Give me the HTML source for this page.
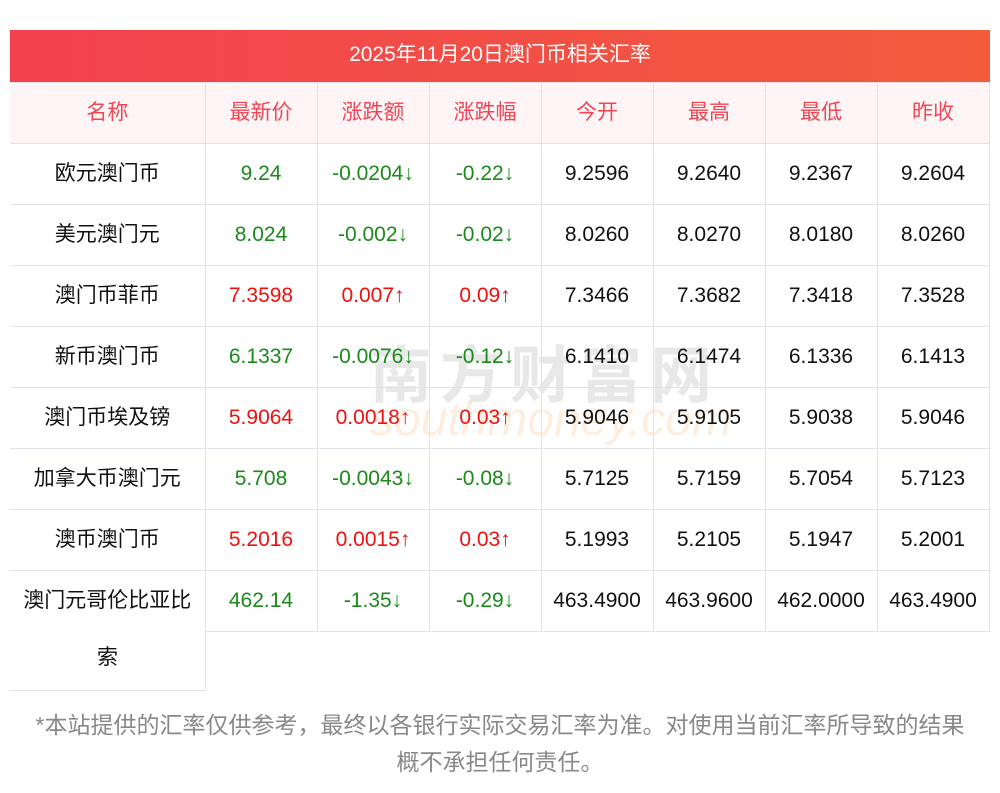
<!DOCTYPE html>
<html><head><meta charset="utf-8"><style>
body{margin:0;background:#fff;width:1000px;height:793px;overflow:hidden;font-family:"Liberation Sans","Noto Sans CJK SC",sans-serif;position:relative}
.title{position:absolute;left:10px;top:30px;width:980px;height:52px;background:linear-gradient(90deg,#f2414f,#f25c3c);color:#fff;font-size:21px;line-height:50px;text-align:center}
table{position:absolute;left:10px;top:82px;border-collapse:collapse;font-size:21px;table-layout:fixed}
td{height:60px;border:1px solid #e2e2ea;text-align:center;padding:0;color:#111;line-height:56px;white-space:nowrap}
td:first-child{border-left:none}
tr.h td{background:#fff5f6;color:#f04654}
.g{color:#1a8a1a}.r{color:#f01010}
.wm{position:absolute;left:370px;top:325px;font-size:62px;color:rgba(180,180,180,.3);letter-spacing:8px;font-weight:bold}
.wm2{position:absolute;left:370px;top:392px;font-size:48px;color:rgba(250,200,150,.3);font-style:italic}
.foot{position:absolute;left:0;top:707px;width:1000px;text-align:center;font-size:23px;line-height:37px;color:#888}
.last{position:absolute;left:10px;top:630px;width:195px;height:60px;border-right:1px solid #e2e2ea;border-bottom:1px solid #e2e2ea;text-align:center;font-size:21px;line-height:56px;color:#111}
</style></head><body>
<div class="title">2025年11月20日澳门币相关汇率</div>
<div class="wm">南方财富网</div><div class="wm2">southmoney.com</div>
<table>
<colgroup><col style="width:195px"><col style="width:112px"><col style="width:112px"><col style="width:112px"><col style="width:112px"><col style="width:112px"><col style="width:112px"><col style="width:112px"></colgroup>
<tr class="h"><td>名称</td><td>最新价</td><td>涨跌额</td><td>涨跌幅</td><td>今开</td><td>最高</td><td>最低</td><td>昨收</td></tr>
<tr><td>欧元澳门币</td><td class="g">9.24</td><td class="g">-0.0204↓</td><td class="g">-0.22↓</td><td>9.2596</td><td>9.2640</td><td>9.2367</td><td>9.2604</td></tr>
<tr><td>美元澳门元</td><td class="g">8.024</td><td class="g">-0.002↓</td><td class="g">-0.02↓</td><td>8.0260</td><td>8.0270</td><td>8.0180</td><td>8.0260</td></tr>
<tr><td>澳门币菲币</td><td class="r">7.3598</td><td class="r">0.007↑</td><td class="r">0.09↑</td><td>7.3466</td><td>7.3682</td><td>7.3418</td><td>7.3528</td></tr>
<tr><td>新币澳门币</td><td class="g">6.1337</td><td class="g">-0.0076↓</td><td class="g">-0.12↓</td><td>6.1410</td><td>6.1474</td><td>6.1336</td><td>6.1413</td></tr>
<tr><td>澳门币埃及镑</td><td class="r">5.9064</td><td class="r">0.0018↑</td><td class="r">0.03↑</td><td>5.9046</td><td>5.9105</td><td>5.9038</td><td>5.9046</td></tr>
<tr><td>加拿大币澳门元</td><td class="g">5.708</td><td class="g">-0.0043↓</td><td class="g">-0.08↓</td><td>5.7125</td><td>5.7159</td><td>5.7054</td><td>5.7123</td></tr>
<tr><td>澳币澳门币</td><td class="r">5.2016</td><td class="r">0.0015↑</td><td class="r">0.03↑</td><td>5.1993</td><td>5.2105</td><td>5.1947</td><td>5.2001</td></tr>
<tr><td style="border-bottom:none">澳门元哥伦比亚比</td><td class="g">462.14</td><td class="g">-1.35↓</td><td class="g">-0.29↓</td><td>463.4900</td><td>463.9600</td><td>462.0000</td><td>463.4900</td></tr>
</table>
<div class="last">索</div>
<div class="foot">*本站提供的汇率仅供参考，最终以各银行实际交易汇率为准。对使用当前汇率所导致的结果<br>概不承担任何责任。</div>
</body></html>
